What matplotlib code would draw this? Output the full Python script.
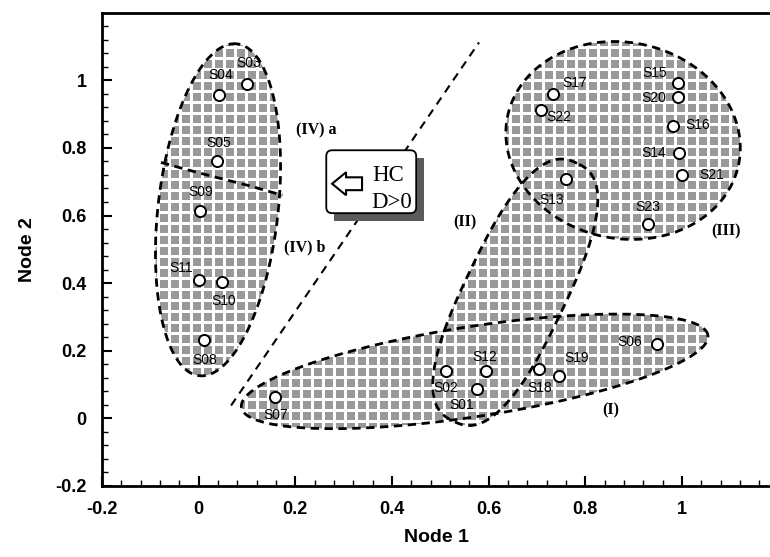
import numpy as np
import matplotlib
matplotlib.use("Agg")
import matplotlib.pyplot as plt
from matplotlib.patches import Polygon, FancyBboxPatch, Rectangle

# ---------------- data ----------------
samples = ["S01", "S02", "S03", "S04", "S05", "S06", "S07", "S08", "S09", "S10",
           "S11", "S12", "S13", "S14", "S15", "S16", "S17", "S18", "S19", "S20",
           "S21", "S22", "S23"]
node1 = [0.576, 0.512, 0.100, 0.042, 0.038, 0.949, 0.158, 0.011, 0.003, 0.049,
         0.001, 0.595, 0.760, 0.994, 0.992, 0.982, 0.734, 0.705, 0.746, 0.992,
         1.000, 0.708, 0.930]
node2 = [0.086, 0.139, 0.988, 0.956, 0.760, 0.219, 0.062, 0.231, 0.612, 0.402,
         0.408, 0.139, 0.707, 0.784, 0.991, 0.864, 0.959, 0.145, 0.124, 0.950,
         0.719, 0.911, 0.574]
# label offsets (pixels, x right / y up)
label_dx = [-15, 0, 2, 2, 2, -28, 1, 1, 1, 1, -18, -2, -14, -25, -24, 24, 21, 0, 17, -24, 30, 18, 0]
label_dy = [-16, -17, 21, 20, 18, 2, -18, -20, 19, -19, 12, 14, -21, 0, 10, 1, 11, -19, 18, -1, 0, -7, 17]

x_ticks = [-0.2, 0, 0.2, 0.4, 0.6, 0.8, 1.0]
x_tick_labels = ["-0.2", "0", "0.2", "0.4", "0.6", "0.8", "1"]
y_ticks = [-0.2, 0, 0.2, 0.4, 0.6, 0.8, 1.0]
y_tick_labels = ["-0.2", "0", "0.2", "0.4", "0.6", "0.8", "1"]

group_names = ["(IV) a", "(IV) b", "(II)", "(III)", "(I)"]

# ---------------- figure ----------------
W, H = 770, 557
fig = plt.figure(figsize=(W / 100, H / 100), dpi=100)
ax = fig.add_axes([102 / W, 71 / H, 668 / W, 473 / H])
XLIM = (-0.2, 1.182)
YLIM = (-0.2, 1.199)
ax.set_xlim(*XLIM)
ax.set_ylim(*YLIM)

SANS = "Liberation Sans"
SERIF = "Liberation Serif"


def region_poly(cx, cy, a, b, ang, p=2.0, n=500):
    """closed shape around a data centre, sizes in pixels"""
    t = np.linspace(0, 2 * np.pi, n)
    c, s = np.cos(t), np.sin(t)
    u = a * np.sign(c) * np.abs(c) ** (2 / p)
    v = b * np.sign(s) * np.abs(s) ** (2 / p)
    th = np.deg2rad(ang)
    x = u * np.cos(th) - v * np.sin(th)
    y = u * np.sin(th) + v * np.cos(th)
    c0 = ax.transData.transform((cx, cy))
    pts = np.column_stack([x + c0[0], y + c0[1]])
    return ax.transData.inverted().transform(pts)


# texture for the shaded cluster regions
hh, ww = 473, 668
ii, jj = np.mgrid[0:hh, 0:ww]
tex = np.where(((ii % 11) < 3) | ((jj % 11) < 3), 1.0, 0.6)

regions = [
    dict(c=(0.040, 0.617), a=167, b=60, ang=83.5, p=2.0),   # IV
    dict(c=(0.878, 0.822), a=118, b=98, ang=-12, p=2.0),    # III
    dict(c=(0.655, 0.373), a=143, b=50, ang=64.4, p=2.6),   # II
    dict(c=(0.571, 0.139), a=236, b=45, ang=8.8, p=2.0),    # I
]
for r in regions:
    pts = region_poly(r["c"][0], r["c"][1], r["a"], r["b"], r["ang"], r["p"])
    clip = Polygon(pts, closed=True, transform=ax.transData, facecolor="none", edgecolor="none")
    ax.add_patch(clip)
    im = ax.imshow(tex, extent=(XLIM[0], XLIM[1], YLIM[0], YLIM[1]), origin="upper",
                   cmap="gray", vmin=0, vmax=1, interpolation="nearest", aspect="auto", zorder=1)
    im.set_clip_path(clip)
for r in regions:
    pts = region_poly(r["c"][0], r["c"][1], r["a"], r["b"], r["ang"], r["p"])
    ax.add_patch(Polygon(pts, closed=True, fill=False, edgecolor="black", lw=2.0,
                         linestyle=(0, (3, 2)), zorder=2))

# divider between IV a and IV b
ax.plot([-0.078, -0.02, 0.036, 0.105, 0.173], [0.757, 0.734, 0.713, 0.688, 0.660],
        color="black", lw=2.0, linestyle=(0, (3, 2)), zorder=2)

# diagonal separating line
ax.plot([0.067, 0.580], [0.038, 1.112], color="black", lw=1.5, linestyle=(0, (4, 3)), zorder=2)

# HC box
bx0, bx1, by0, by1 = 0.264, 0.450, 0.607, 0.793
ax.add_patch(Rectangle((bx0 + 0.0166, by0 - 0.0237), bx1 - bx0, by1 - by0,
                       facecolor="#5a5a5a", edgecolor="none", zorder=3))
ax.add_patch(FancyBboxPatch((bx0, by0), bx1 - bx0, by1 - by0,
                            boxstyle="round,pad=0,rounding_size=0.012",
                            mutation_aspect=1.43, facecolor="white", edgecolor="black",
                            lw=1.3, zorder=3.1))
arrow = [(0.276, 0.694), (0.305, 0.728), (0.305, 0.713), (0.338, 0.713),
         (0.338, 0.675), (0.305, 0.675), (0.305, 0.660)]
ax.add_patch(Polygon(arrow, closed=True, facecolor="white", edgecolor="black", lw=1.5, zorder=3.2))
ax.text(0.392, 0.719, "HC", family=SERIF, fontsize=16.5, ha="center", va="center", zorder=3.3)
ax.text(0.399, 0.639, "D>0", family=SERIF, fontsize=16.5, ha="center", va="center", zorder=3.3)

# points
ax.plot(node1, node2, linestyle="none", marker="o", ms=8, mfc="white", mec="black", mew=1.4, zorder=4)
for s, x, y, dx, dy in zip(samples, node1, node2, label_dx, label_dy):
    ax.annotate(s, (x, y), xytext=(dx, dy), textcoords="offset pixels", ha="center", va="center",
                family=SANS, fontsize=10, zorder=5)

# group labels
group_pos = [(0.202, 0.852, "left"), (0.177, 0.506, "left"), (0.551, 0.580, "center"),
             (1.091, 0.553, "center"), (0.853, 0.024, "center")]
for name, (x, y, ha) in zip(group_names, group_pos):
    ax.text(x, y, name, family=SERIF, fontweight="bold", fontsize=11.5, ha=ha, va="center", zorder=5)

# axes styling
ax.set_xlim(*XLIM)
ax.set_ylim(*YLIM)
ax.spines["right"].set_visible(False)
for sp in ["top", "left", "bottom"]:
    ax.spines[sp].set_linewidth(2.0)
ax.set_xticks(x_ticks)
ax.set_xticklabels(x_tick_labels)
ax.set_yticks(y_ticks)
ax.set_yticklabels(y_tick_labels)
ax.set_xticks(np.arange(-0.2, 1.181, 0.04), minor=True)
ax.set_yticks(np.arange(-0.2, 1.199, 0.04), minor=True)
ax.tick_params(which="major", direction="in", length=7, width=1.5, pad=11)
ax.tick_params(which="minor", direction="in", length=4, width=1.0)
for lab in ax.get_xticklabels() + ax.get_yticklabels():
    lab.set_family(SANS)
    lab.set_fontweight("bold")
    lab.set_fontsize(13)
ax.set_xlabel("Node 1", family=SANS, fontweight="bold", fontsize=14, labelpad=8)
ax.set_ylabel("Node 2", family=SANS, fontweight="bold", fontsize=14, labelpad=14)

fig.savefig("out.png", dpi=100)
